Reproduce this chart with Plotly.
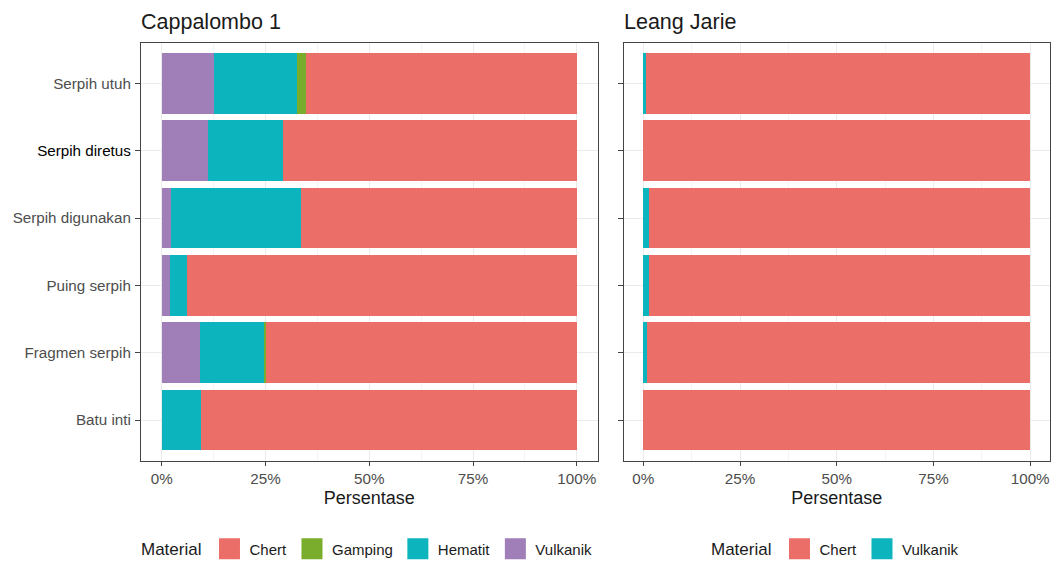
import plotly.graph_objects as go

# Artefact categories (top to bottom)
categories = ["Serpih utuh", "Serpih diretus", "Serpih digunakan",
              "Puing serpih", "Fragmen serpih", "Batu inti"]

# Cappalombo 1 – material share per category (%)
cap_vulkanik = [12.7, 11.1, 2.3, 1.9, 9.2, 0.0]
cap_hematit = [20.0, 18.0, 31.2, 4.2, 15.5, 9.4]
cap_gamping = [2.1, 0.0, 0.0, 0.0, 0.3, 0.0]
cap_chert = [65.2, 70.9, 66.5, 93.9, 75.0, 90.6]

# Leang Jarie – material share per category (%)
lj_vulkanik = [0.6, 0.0, 1.4, 1.4, 1.0, 0.0]
lj_chert = [99.4, 100.0, 98.6, 98.6, 99.0, 100.0]

x_tickvals = [0, 25, 50, 75, 100]
x_ticktext = ["0%", "25%", "50%", "75%", "100%"]

W, H = 1056, 561
FONT = "Liberation Sans, Arial, sans-serif"

COL_CHERT = "#EB6E68"
COL_GAMPING = "#79AD2B"
COL_HEMATIT = "#0CB4BE"
COL_VULKANIK = "#A07FB8"
COL_TEAL2 = "#0CB4BE"

fig = go.Figure()


def add_bars(values, name, color, xaxis, yaxis):
    fig.add_trace(go.Bar(
        y=categories, x=values, orientation="h", name=name,
        marker=dict(color=color, line=dict(width=0)),
        width=0.9, showlegend=False, xaxis=xaxis, yaxis=yaxis,
        hovertemplate="%{y}: %{x:.1f}%<extra>" + name + "</extra>",
    ))


# Left panel: stacked from the axis outward
add_bars(cap_vulkanik, "Vulkanik", COL_VULKANIK, "x", "y")
add_bars(cap_hematit, "Hematit", COL_HEMATIT, "x", "y")
add_bars(cap_gamping, "Gamping", COL_GAMPING, "x", "y")
add_bars(cap_chert, "Chert", COL_CHERT, "x", "y")

# Right panel
add_bars(lj_vulkanik, "Vulkanik", COL_TEAL2, "x2", "y2")
add_bars(lj_chert, "Chert", COL_CHERT, "x2", "y2")


def add_key(name, color, legend):
    # legend-only entry with a large square key
    fig.add_trace(go.Scatter(
        x=[None], y=[None], mode="markers", name=name,
        marker=dict(symbol="square", size=16, color=color,
                    line=dict(color=color, width=5)),
        legend=legend, xaxis="x", yaxis="y", hoverinfo="skip",
    ))


for nm, c in [("Chert", COL_CHERT), ("Gamping", COL_GAMPING),
              ("Hematit", COL_HEMATIT), ("Vulkanik", COL_VULKANIK)]:
    add_key(nm, c, "legend")
for nm, c in [("Chert", COL_CHERT), ("Vulkanik", COL_TEAL2)]:
    add_key(nm, c, "legend2")

left_dom = [141 / W, 597.5 / W]
right_dom = [624 / W, 1049.5 / W]
y_dom = [1 - 460.5 / H, 1 - 43 / H]

ytext_left = [f'<span style="color:#000000">{c}</span>' if c == "Serpih diretus" else c
              for c in categories]

TICK_FONT = dict(size=15.2, color="#4D4D4D", family=FONT)

xaxis_common = dict(
    range=[-5, 105], tickvals=x_tickvals, ticktext=x_ticktext,
    showline=True, mirror=True, linecolor="#444444", linewidth=1.2,
    ticks="outside", ticklen=4, tickcolor="#444444", tickwidth=1,
    tickfont=TICK_FONT, ticklabelstandoff=0,
    showgrid=True, gridcolor="#EBEBEB", gridwidth=1.1, zeroline=False,
    minor=dict(tickvals=[12.5, 37.5, 62.5, 87.5], showgrid=True,
               gridcolor="#F4F4F4", gridwidth=0.6, ticks=""),
    title=dict(text="Persentase", font=dict(size=18, color="#1A1A1A", family=FONT),
               standoff=5),
    fixedrange=True,
)
yaxis_common = dict(
    type="category", categoryorder="array", categoryarray=categories[::-1],
    range=[-0.6, 5.6],
    showline=True, mirror=True, linecolor="#444444", linewidth=1.2,
    ticks="outside", ticklen=5, tickcolor="#444444", tickwidth=1,
    tickfont=TICK_FONT, ticklabelstandoff=1,
    showgrid=True, gridcolor="#EBEBEB", gridwidth=1.1, zeroline=False,
    fixedrange=True,
)

legend_common = dict(
    orientation="h", xanchor="left", y=1 - 549 / H, yanchor="middle",
    title=dict(text="Material", side="left",
               font=dict(size=17, color="#1A1A1A", family=FONT)),
    font=dict(size=15, color="#1A1A1A", family=FONT),
    bgcolor="rgba(0,0,0,0)", traceorder="normal",
)

fig.update_layout(
    width=W, height=H, margin=dict(l=0, r=0, t=0, b=0, autoexpand=False),
    paper_bgcolor="white", plot_bgcolor="white",
    barmode="stack", bargap=0.1,
    font=dict(family=FONT, color="#1A1A1A"),
    xaxis=dict(domain=left_dom, anchor="y", **xaxis_common),
    yaxis=dict(domain=y_dom, anchor="x", tickvals=categories, ticktext=ytext_left,
               **yaxis_common),
    xaxis2=dict(domain=right_dom, anchor="y2", **xaxis_common),
    yaxis2=dict(domain=y_dom, anchor="x2", tickvals=categories,
                ticktext=[""] * len(categories), **yaxis_common),
    legend=dict(x=139 / W, **legend_common),
    legend2=dict(x=709 / W, **legend_common),
    annotations=[
        dict(text="Cappalombo 1", x=139 / W, y=1 - 22 / H, xref="paper", yref="paper",
             xanchor="left", yanchor="middle", showarrow=False,
             font=dict(size=21.5, color="#1A1A1A", family=FONT)),
        dict(text="Leang Jarie", x=622 / W, y=1 - 22 / H, xref="paper", yref="paper",
             xanchor="left", yanchor="middle", showarrow=False,
             font=dict(size=21.5, color="#1A1A1A", family=FONT)),
    ],
)

fig.write_html("out.html")
